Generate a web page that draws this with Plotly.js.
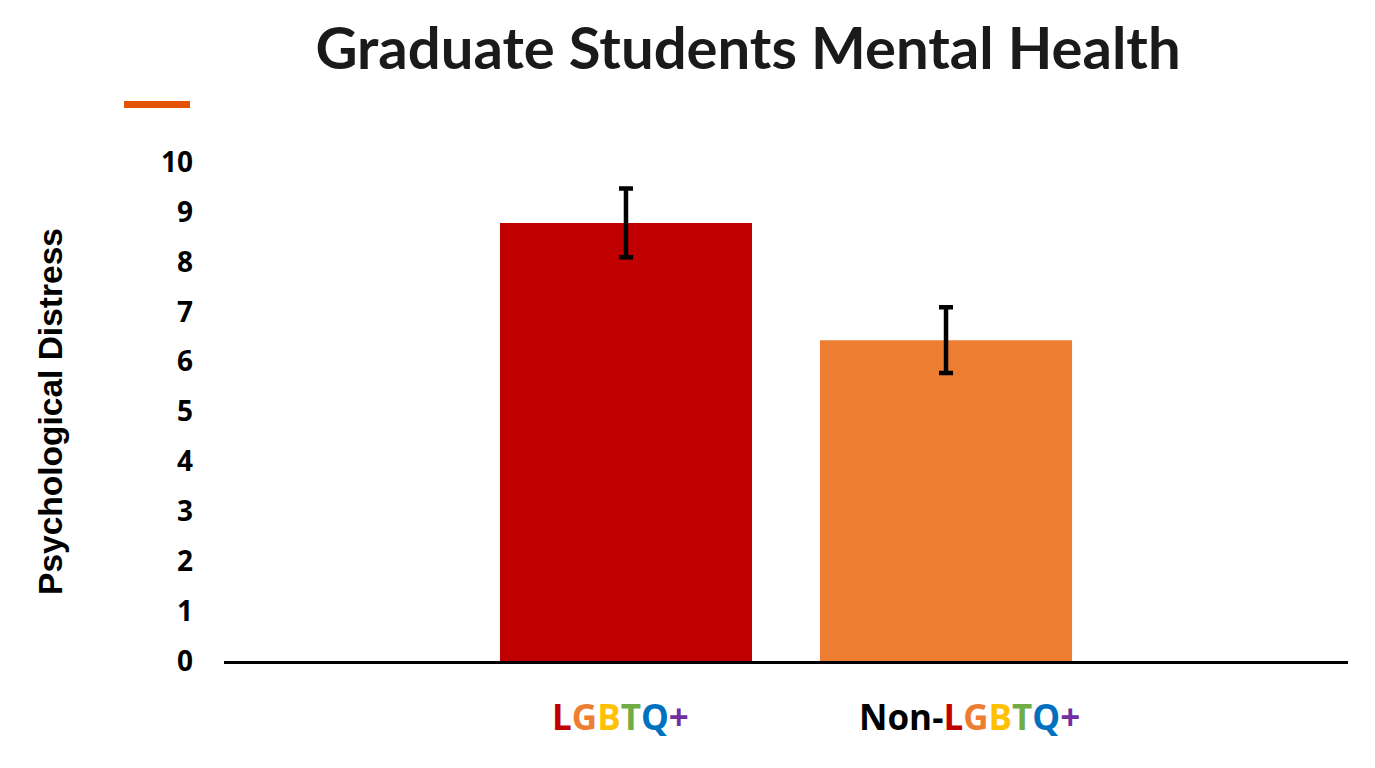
<!DOCTYPE html>
<html>
<head>
<meta charset="utf-8">
<script src="https://cdn.plot.ly/plotly-3.0.1.min.js"></script>
<style>html,body{margin:0;padding:0;background:#fff;}#chart{width:1375px;height:768px;}</style>
</head>
<body>
<div id="chart"></div>
<script>
const categories = ["LGBTQ+", "Non-LGBTQ+"];
const distress = [8.78, 6.43];
const errors = [0.69, 0.66];
const barColors = ["#C00000", "#ED7D31"];
const yTicks = [0,1,2,3,4,5,6,7,8,9,10];
const rainbow = ["#C00000", "#ED7D31", "#FFC000", "#70AD47", "#0070C0", "#7030A0"];
const labelPrefixes = ["", "Non-"];

function rainbowText(prefix) {
  const letters = ["L","G","B","T","Q","+"];
  let s = prefix ? '<span style="color:#000000">' + prefix + '</span>' : '';
  letters.forEach((c, i) => { s += '<span style="color:' + rainbow[i] + '">' + c + '</span>'; });
  return s;
}
const labelShifts = [-5, 23];

const trace = {
  type: 'bar',
  x: categories,
  y: distress,
  width: 0.7875,
  marker: {color: barColors},
  error_y: {type: 'data', array: errors, visible: true, color: '#000000', thickness: 4.5, width: 7},
  hoverinfo: 'x+y'
};

const annotations = categories.map((c, i) => ({
  x: c, xref: 'x', y: 0, yref: 'y', yanchor: 'middle', xanchor: 'center',
  yshift: -55, xshift: labelShifts[i], showarrow: false,
  text: '<b>' + rainbowText(labelPrefixes[i]) + '</b>',
  font: {family: '"Open Sans", Lato, sans-serif', size: 35, color: '#000000'}
}));

const layout = {
  width: 1375, height: 768,
  margin: {l: 224, r: 27, t: 162, b: 107},
  paper_bgcolor: '#ffffff', plot_bgcolor: '#ffffff',
  showlegend: false,
  title: {text: '<b>Graduate Students Mental Health</b>', x: 0.544, xanchor: 'center', y: 0.937, yanchor: 'middle',
          font: {family: 'Lato, "Open Sans", sans-serif', size: 58, color: '#1a1a1a'}},
  xaxis: {
    type: 'category', range: [-1.256, 2.256], showgrid: false, zeroline: false,
    showline: true, linecolor: '#000000', linewidth: 3,
    ticks: '', showticklabels: false,
    fixedrange: true
  },
  yaxis: {
    range: [0, 10], showgrid: false, zeroline: false, showline: false,
    tickvals: yTicks, ticks: '', ticklabelstandoff: 30,
    tickfont: {family: '"Open Sans", Lato, sans-serif', size: 28, color: '#000000', weight: 'bold'},
    title: {text: '<b>Psychological Distress</b>', standoff: 88,
            font: {family: '"Liberation Sans", Arial, sans-serif', size: 33.5, color: '#000000'}},
    fixedrange: true
  },
  annotations: annotations,
  shapes: [{
    type: 'line', xref: 'paper', yref: 'paper',
    x0: (124-224)/1124, x1: (190-224)/1124,
    y0: (661-104.5)/499, y1: (661-104.5)/499,
    line: {color: '#E35205', width: 7}
  }]
};

Plotly.newPlot('chart', [trace], layout, {displayModeBar: false});
</script>
</body>
</html>
